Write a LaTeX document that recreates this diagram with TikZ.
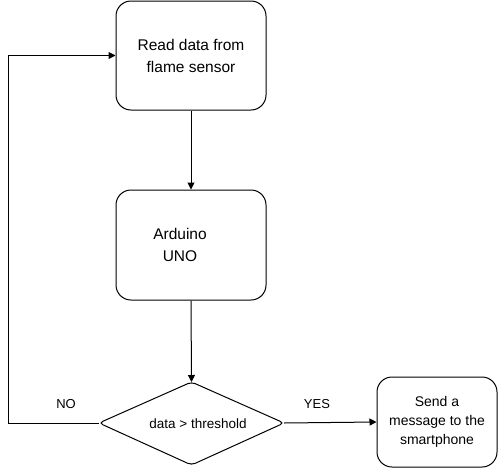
\documentclass[tikz,border=0pt]{standalone}
\usepackage{fontspec}
\setmainfont{Liberation Sans}
\usetikzlibrary{shapes.geometric,arrows.meta}
\begin{document}
\begin{tikzpicture}[x=1pt,y=-1pt,
  box/.style={draw,rounded corners=15pt,line width=1pt,inner sep=0pt,align=center},
  conn/.style={line width=1pt,-{Triangle[length=7pt,width=7pt]}},
  lbl/.style={font=\fontsize{13}{15}\selectfont}]
\useasboundingbox (0,0) rectangle (498,469);
\node[box,minimum width=150pt,minimum height=109pt,font=\fontsize{15.5}{22}\selectfont] (read) at (191,55.5) {Read data from\\flame sensor};
\node[box,minimum width=150pt,minimum height=110pt] (ard) at (191,245) {};
\node[font=\fontsize{15.5}{22}\selectfont,align=center] (ardt) at (180,245) {Arduino\\UNO};
\coordinate (dl) at (99,423);
\coordinate (dr) at (284,423);
\coordinate (dt) at (191.5,382);
\coordinate (db) at (191.5,465);
\draw[line width=1pt,rounded corners=4pt] (dl) -- (dt) -- (dr) -- (db) -- cycle;
\node[font=\fontsize{13.5}{16}\selectfont] (dtext) at (198,424) {data > threshold};
\node[box,minimum width=120pt,minimum height=90pt,font=\fontsize{14}{19}\selectfont] (send) at (437,422) {Send a\\message to the\\smartphone};
\coordinate (c1) at (8,423);
\coordinate (c2) at (8,55.5);
\draw[conn] (read.south) -- (ard.north);
\draw[conn] (ard.south) -- (dt);
\draw[conn] (dr) -- (send.west);
\draw[conn] (dl) -- (c1) -- (c2) -- (read.west);
\node[lbl] (no) at (66,404) {NO};
\node[lbl] (yes) at (317,404) {YES};
\end{tikzpicture}
\end{document}
